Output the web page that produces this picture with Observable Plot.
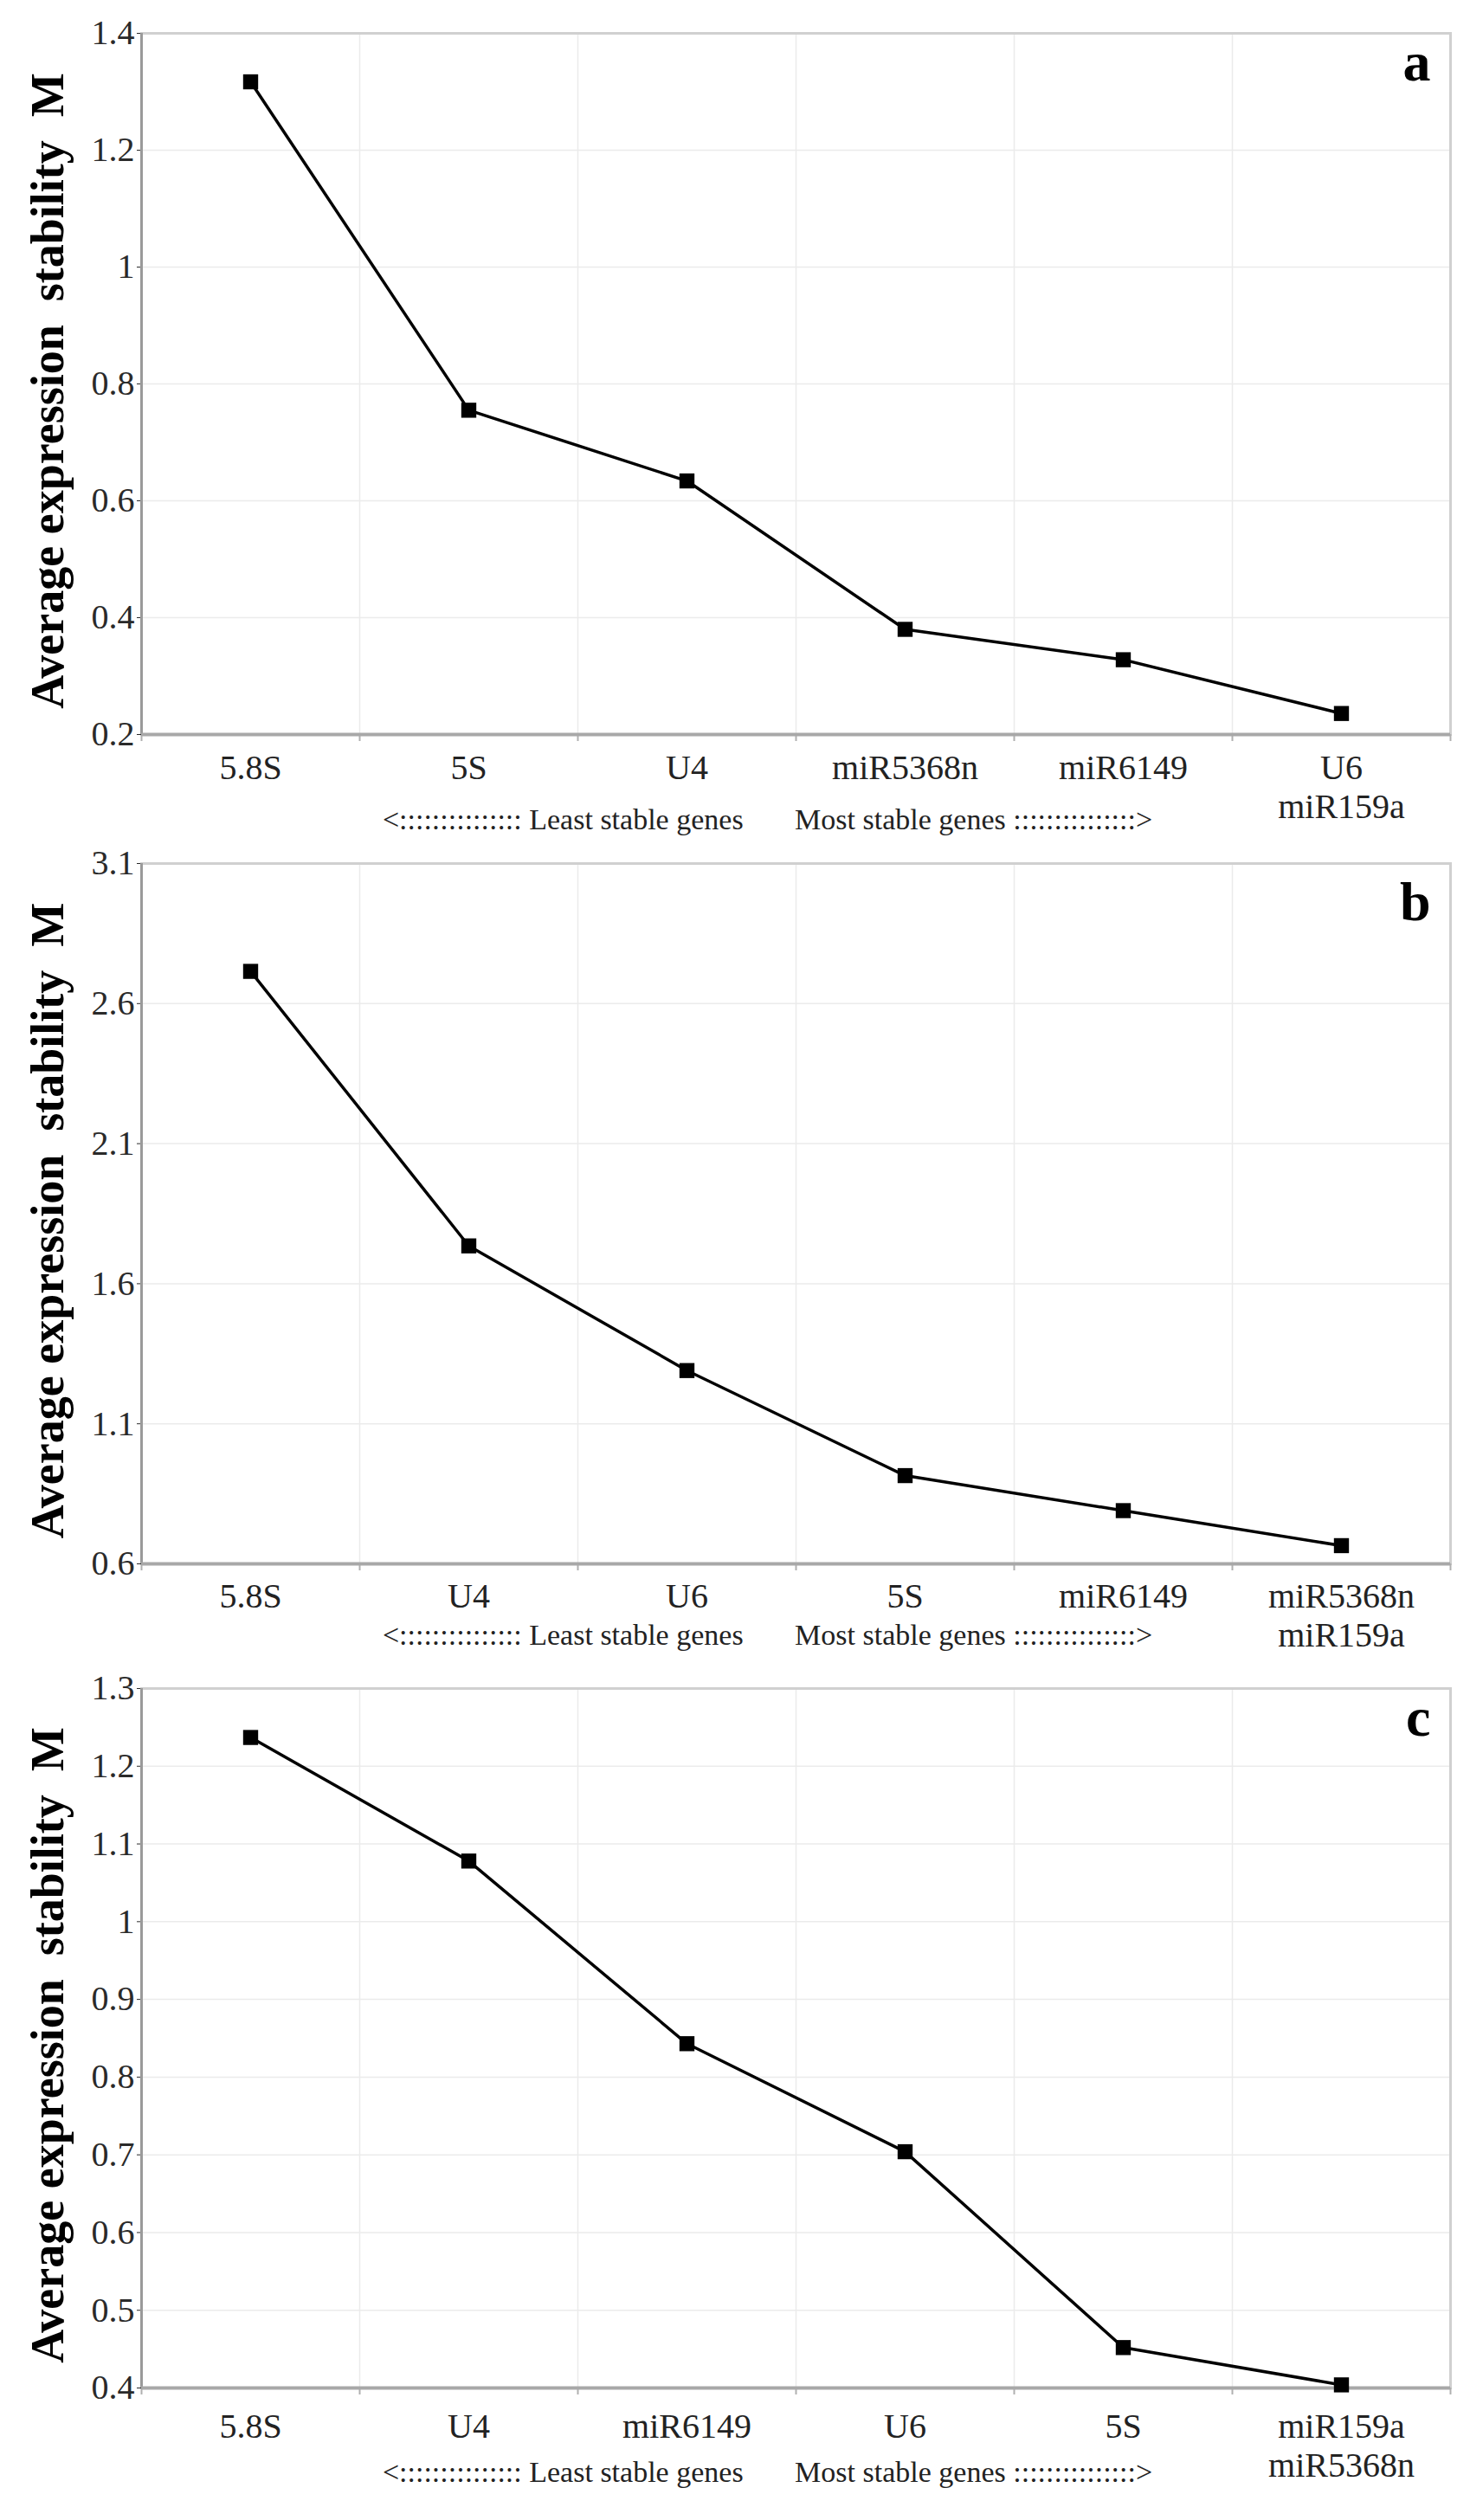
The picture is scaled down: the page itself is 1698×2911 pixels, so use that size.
<!DOCTYPE html>
<html>
<head>
<meta charset="utf-8">
<script src="https://cdn.jsdelivr.net/npm/d3@7"></script>
<script src="https://cdn.jsdelivr.net/npm/@observablehq/plot@0.6"></script>
<style>
  html, body { margin: 0; padding: 0; background: #ffffff; }
  #chart svg { display: block; }
</style>
</head>
<body>
<div id="chart"></div>
<script>
// ---- data ----
const genesA = ["5.8S", "5S", "U4", "miR5368n", "miR6149", "U6\nmiR159a"];
const valuesA = [1.317, 0.755, 0.634, 0.380, 0.328, 0.236];
const ticksA = [0.2, 0.4, 0.6, 0.8, 1, 1.2, 1.4];

const genesB = ["5.8S", "U4", "U6", "5S", "miR6149", "miR5368n\nmiR159a"];
const valuesB = [2.715, 1.735, 1.29, 0.915, 0.79, 0.665];
const ticksB = [0.6, 1.1, 1.6, 2.1, 2.6, 3.1];

const genesC = ["5.8S", "U4", "miR6149", "U6", "5S", "miR159a\nmiR5368n"];
const valuesC = [1.237, 1.078, 0.843, 0.704, 0.452, 0.404];
const ticksC = [0.4, 0.5, 0.6, 0.7, 0.8, 0.9, 1, 1.1, 1.2, 1.3];

const panelLetters = ["a", "b", "c"];
const yTitle = "Average expression\u00a0 stability\u00a0 M";
const arrowText = "<" + ":".repeat(15) + " Least stable genes" + "\u00a0".repeat(7) +
                  "Most stable genes " + ":".repeat(15) + ">";

const serif = "'Liberation Serif', 'Times New Roman', Times, serif";

function panel(genes, values, ticks, letter, lay) {
  const data = genes.map((g, i) => ({i, g, v: values[i]}));
  const bounds = d3.range(genes.length + 1).map(k => k - 0.5);
  const inner = bounds.slice(1, -1);
  const y0 = ticks[0], y1 = ticks[ticks.length - 1];
  return Plot.plot({
    width: 1698,
    height: lay.height,
    marginLeft: 163,
    marginRight: 23,
    marginTop: lay.marginTop,
    marginBottom: lay.marginBottom,
    style: {fontFamily: serif, background: "#ffffff", color: "#000", overflow: "hidden"},
    x: {domain: [-0.5, genes.length - 0.5], axis: null},
    y: {domain: [y0, y1], axis: null},
    marks: [
      Plot.gridY(ticks, {stroke: "#ebebeb", strokeOpacity: 1, strokeWidth: 1.5}),
      Plot.gridX(inner, {stroke: "#ebebeb", strokeOpacity: 1, strokeWidth: 1.5}),
      Plot.frame({stroke: "#d0d0d0", strokeWidth: 3}),
      Plot.axisX(bounds, {tickSize: 8, tickFormat: () => "", label: null, stroke: "#b0b0b0", strokeWidth: 2}),
      Plot.axisY(ticks, {
        tickSize: 5, tickPadding: 3, fontSize: 40, fontFamily: serif, color: "#2a2a2a",
        tickFormat: d => String(+d.toFixed(2)), label: null
      }),
      Plot.ruleX([-0.5], {stroke: "#9a9a9a", strokeWidth: 3}),
      Plot.ruleY([y0], {stroke: "#a8a8a8", strokeWidth: 4}),
      Plot.line(data, {x: "i", y: "v", stroke: "#000", strokeWidth: 3.5}),
      Plot.dot(data, {x: "i", y: "v", symbol: "square", r: 9.8, fill: "#000", stroke: "none"}),
      Plot.text(data, {
        x: "i", text: "g", frameAnchor: "bottom", lineAnchor: "top",
        dy: lay.labelDy, fontSize: 40, lineHeight: 1.12, fontFamily: serif, fill: "#222"
      }),
      Plot.text([arrowText], {
        frameAnchor: "bottom", textAnchor: "middle", dy: lay.arrowDy, dx: -33,
        fontSize: 34, fontFamily: serif, fill: "#222"
      }),
      Plot.text([letter], {
        frameAnchor: "top-right", lineAnchor: "top", textAnchor: "end",
        dx: -23, dy: lay.letterDy, fontSize: 64, fontWeight: "bold", fontFamily: serif, fill: "#000"
      }),
      Plot.text([yTitle], {
        frameAnchor: "left", textAnchor: "middle", lineAnchor: "middle", rotate: -90,
        dx: -108, dy: 8, fontSize: 54, fontWeight: "bold", fontFamily: serif, fill: "#000"
      })
    ]
  });
}

const chart = document.getElementById("chart");
chart.append(panel(genesA, valuesA, ticksA, panelLetters[0],
  {height: 975, marginTop: 38, marginBottom: 127, labelDy: 20, arrowDy: 109, letterDy: 9}));
chart.append(panel(genesB, valuesB, ticksB, panelLetters[1],
  {height: 950, marginTop: 22, marginBottom: 119, labelDy: 19, arrowDy: 93, letterDy: 20}));
chart.append(panel(genesC, valuesC, ticksC, panelLetters[2],
  {height: 986, marginTop: 25, marginBottom: 153, labelDy: 26, arrowDy: 108, letterDy: 9}));
</script>
</body>
</html>
